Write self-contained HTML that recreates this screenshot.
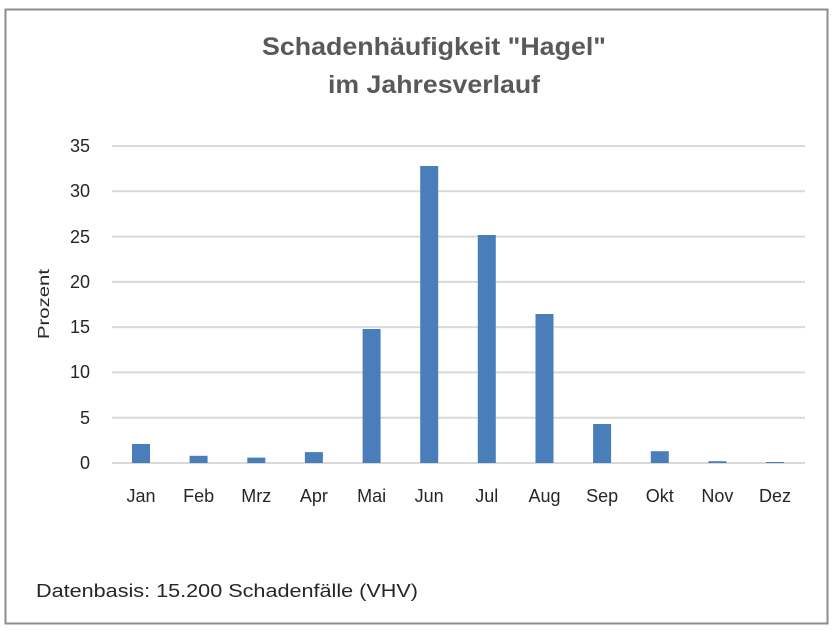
<!DOCTYPE html>
<html><head><meta charset="utf-8"><style>html,body{margin:0;padding:0;background:#fff}svg{display:block}</style></head>
<body>
<svg width="840" height="636" xmlns="http://www.w3.org/2000/svg" font-family="'Liberation Sans', sans-serif">
<rect x="0" y="0" width="840" height="636" fill="#fff"/>
<rect x="5.5" y="9.5" width="822" height="614" fill="none" stroke="#8c8c8c" stroke-width="2"/>
<text x="434" y="55" text-anchor="middle" font-size="25" font-weight="bold" fill="#595959" textLength="344" lengthAdjust="spacingAndGlyphs">Schadenhäufigkeit "Hagel"</text>
<text x="434" y="93" text-anchor="middle" font-size="25" font-weight="bold" fill="#595959" textLength="212" lengthAdjust="spacingAndGlyphs">im Jahresverlauf</text>
<g stroke="#d9d9d9" stroke-width="2">
<line x1="112" x2="805" y1="146" y2="146"/>
<line x1="112" x2="805" y1="191.3" y2="191.3"/>
<line x1="112" x2="805" y1="236.6" y2="236.6"/>
<line x1="112" x2="805" y1="281.9" y2="281.9"/>
<line x1="112" x2="805" y1="327.1" y2="327.1"/>
<line x1="112" x2="805" y1="372.4" y2="372.4"/>
<line x1="112" x2="805" y1="417.7" y2="417.7"/>
<line x1="112" x2="805" y1="463" y2="463"/>
</g>
<g font-size="18" fill="#262626" text-anchor="end">
<text x="90" y="152">35</text><text x="90" y="197">30</text><text x="90" y="243">25</text>
<text x="90" y="288">20</text><text x="90" y="333">15</text><text x="90" y="378">10</text>
<text x="90" y="424">5</text><text x="90" y="469">0</text>
</g>
<text transform="translate(49,304) rotate(-90)" text-anchor="middle" font-size="16" fill="#262626" textLength="70" lengthAdjust="spacingAndGlyphs">Prozent</text>
<g fill="#4a7ebb">
<rect x="132" y="444" width="18" height="19"/>
<rect x="189.6" y="455.8" width="18" height="7.2"/>
<rect x="247.3" y="457.6" width="18" height="5.4"/>
<rect x="304.9" y="452.1" width="18" height="10.9"/>
<rect x="362.6" y="329" width="18" height="134"/>
<rect x="420.2" y="166" width="18" height="297"/>
<rect x="477.8" y="235" width="18" height="228"/>
<rect x="535.5" y="314" width="18" height="149"/>
<rect x="593.1" y="424" width="18" height="39"/>
<rect x="650.8" y="451.2" width="18" height="11.8"/>
<rect x="708.4" y="461.2" width="18" height="1.8"/>
<rect x="766" y="462" width="18" height="1"/>
</g>
<g font-size="18" fill="#262626" text-anchor="middle">
<text x="141" y="502">Jan</text><text x="198.6" y="502">Feb</text><text x="256.3" y="502">Mrz</text>
<text x="313.9" y="502">Apr</text><text x="371.6" y="502">Mai</text><text x="429.2" y="502">Jun</text>
<text x="486.8" y="502">Jul</text><text x="544.5" y="502">Aug</text><text x="602.1" y="502">Sep</text>
<text x="659.8" y="502">Okt</text><text x="717.4" y="502">Nov</text><text x="775" y="502">Dez</text>
</g>
<text x="36" y="597" font-size="18" fill="#262626" textLength="382" lengthAdjust="spacingAndGlyphs">Datenbasis: 15.200 Schadenfälle (VHV)</text>
</svg>
</body></html>
